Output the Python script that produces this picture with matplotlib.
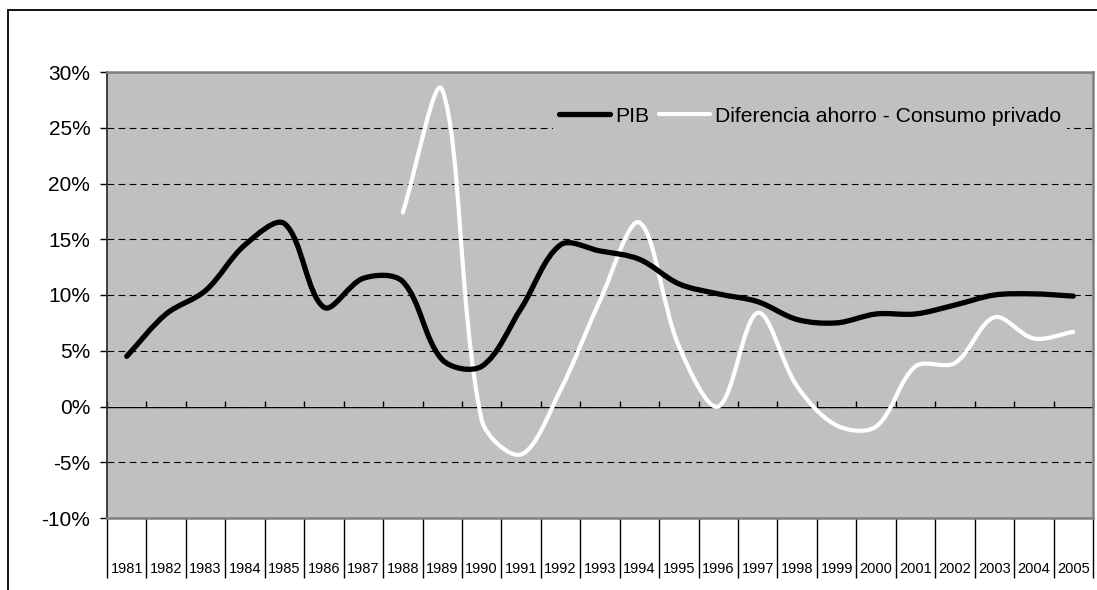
import numpy as np
import matplotlib
matplotlib.use('Agg')
import matplotlib.pyplot as plt
from matplotlib.path import Path
from matplotlib.patches import PathPatch, Rectangle
from matplotlib.lines import Line2D
from matplotlib.ticker import FuncFormatter

plt.rcParams['font.family'] = ['Liberation Sans', 'DejaVu Sans']
plt.rcParams['axes.unicode_minus'] = False

# data (% per year)
years = [str(y) for y in range(1981, 2006)]
pib = [4.5, 8.3, 10.4, 14.5, 16.4, 8.9, 11.5, 11.2, 4.2, 3.6, 8.8, 14.5,
       13.95, 13.2, 11.0, 10.1, 9.4, 7.8, 7.5, 8.3, 8.3, 9.1, 10.0, 10.1, 9.9]
dif_start = 7  # 1988
dif = [17.4, 28.4, -1.2, -4.3, 1.5, 9.5, 16.5, 5.4, 0.0, 8.4, 1.8, -1.7,
       -1.8, 3.6, 3.9, 8.0, 6.1, 6.7]
yticks = [-10, -5, 0, 5, 10, 15, 20, 25, 30]

W, H = 1097, 590
fig = plt.figure(figsize=(W / 100, H / 100), dpi=100)
ax = fig.add_axes([107 / W, 1 - 518 / H, 986 / W, 446 / H])
ax.set_facecolor('#C0C0C0')

x = np.arange(len(years))
ax.set_xlim(-0.5, len(years) - 0.5)
ax.set_ylim(-10, 30)


def smooth_path(xs, ys):
    # excel-like smoothing: bezier with chord weighted handles (in pixels)
    p = np.column_stack([xs, ys]).astype(float)
    q = ax.transData.transform(p)
    n = len(p)
    d = np.hypot(*np.diff(q, axis=0).T)
    verts = [p[0]]
    codes = [Path.MOVETO]
    for i in range(n - 1):
        i0 = max(i - 1, 0)
        i3 = min(i + 2, n - 1)
        da = d[i - 1] if i > 0 else 0.0
        db = d[i + 1] if i + 2 < n else 0.0
        f1 = d[i] / (da + d[i]) / 3.0
        f2 = d[i] / (d[i] + db) / 3.0
        c1 = p[i] + (p[i + 1] - p[i0]) * f1
        c2 = p[i + 1] - (p[i3] - p[i]) * f2
        verts += [c1, c2, p[i + 1]]
        codes += [Path.CURVE4] * 3
    return Path(verts, codes)


ax.add_patch(PathPatch(smooth_path(x, pib), fc='none', ec='black', lw=3.8,
                       capstyle='round', joinstyle='round', zorder=4))
xd = x[dif_start:dif_start + len(dif)]
ax.add_patch(PathPatch(smooth_path(xd, dif), fc='none', ec='white', lw=3.0,
                       capstyle='round', joinstyle='round', zorder=3))

# y axis
ax.set_yticks(yticks)
ax.yaxis.set_major_formatter(FuncFormatter(lambda v, p: '%d%%' % v))
ax.tick_params(axis='y', direction='out', length=5, width=1, pad=7,
               labelsize=15, colors='black')
ax.grid(axis='y', color='black', linestyle=(0, (6, 4)), linewidth=0.8, zorder=1)
ax.set_axisbelow(True)

# category axis at bottom with long separators
ax.set_xticks(x)
ax.set_xticklabels(years)
ax.set_xticks(np.arange(len(years) + 1) - 0.5, minor=True)
ax.tick_params(axis='x', which='major', length=0, pad=31.5, labelsize=10.5)
ax.tick_params(axis='x', which='minor', direction='out', length=43, width=1,
               color='black')

for s in ['top', 'right', 'bottom']:
    ax.spines[s].set_color('#808080')
    ax.spines[s].set_linewidth(1.8)
ax.spines['left'].set_color('#303030')
ax.spines['left'].set_linewidth(1.3)

# zero line with small upward ticks
zero = ax.secondary_xaxis(0.25)
zero.set_xticks(np.arange(len(years) + 1) - 0.5)
zero.tick_params(axis='x', direction='in', length=4, width=1, color='black',
                 labelbottom=False)
zero.spines['bottom'].set_color('black')
zero.spines['bottom'].set_linewidth(1.0)

handles = [Line2D([], [], color='black', lw=3.8, solid_capstyle='round'),
           Line2D([], [], color='white', lw=3.0, solid_capstyle='round')]
leg = fig.legend(handles, ['PIB', 'Diferencia ahorro - Consumo privado'],
                 loc='center left', bbox_to_anchor=(553 / W, 1 - 116 / H),
                 ncol=2, fontsize=15.2, frameon=True, facecolor='#C0C0C0',
                 edgecolor='none', framealpha=1, fancybox=False,
                 handlelength=2.4, handletextpad=0.25, columnspacing=0.45,
                 borderpad=0.3, borderaxespad=0)
leg.set_zorder(5)

# outer chart frame
fig.add_artist(Rectangle((8 / W, -0.1), 1.2, 1 - 10 / H + 0.1,
                         transform=fig.transFigure, fill=False,
                         ec='black', lw=1.3))

fig.savefig('out.png', dpi=100)
